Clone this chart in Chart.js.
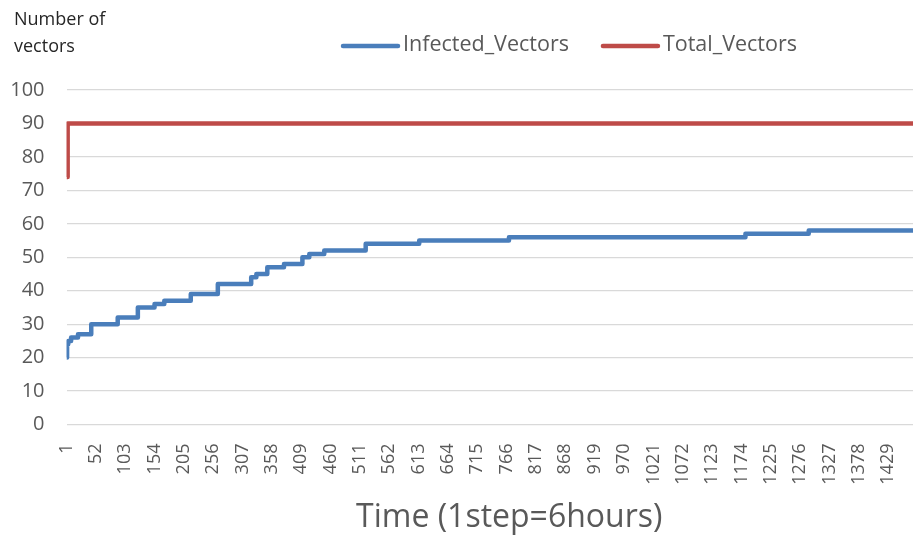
<!DOCTYPE html>
<html>
<head>
<meta charset="utf-8">
<script src="https://cdn.jsdelivr.net/npm/chart.js@4.4.0/dist/chart.umd.min.js"></script>
<style>
  html, body { margin: 0; padding: 0; background: #ffffff; overflow: hidden; }
  #wrap { width: 913px; height: 539px; position: relative; overflow: hidden; }
  #c { position: absolute; left: 0; top: 0; }
</style>
</head>
<body>
<div id="wrap"><canvas id="c" width="952" height="539"></canvas></div>
<script>
// ---- data ----
const seriesNames = ['Infected_Vectors', 'Total_Vectors'];
// step times at which the value changes, and the new value from that step on
const infectedTimes  = [1, 2, 4, 9, 21, 44, 90, 125, 154, 171, 217, 264, 322, 331, 350, 379, 411, 423, 449, 521, 614, 770, 1181, 1291];
const infectedValues = [20, 24, 25, 26, 27, 30, 32, 35, 36, 37, 39, 42, 44, 45, 47, 48, 50, 51, 52, 54, 55, 56, 57, 58];
const totalTimes  = [1, 3];
const totalValues = [74, 90];
const lastStep = 1540;
const xTickLabels = [1, 52, 103, 154, 205, 256, 307, 358, 409, 460, 511, 562, 613, 664, 715, 766, 817, 868, 919, 970, 1021, 1072, 1123, 1174, 1225, 1276, 1327, 1378, 1429];
const yTickLabels = [0, 10, 20, 30, 40, 50, 60, 70, 80, 90, 100];
const yAxisTitle = ['Number of', 'vectors'];
const xAxisTitle = 'Time (1step=6hours)';

const seriesColors = ['#4a7ebb', '#be4b48'];
const FONT = "'Open Sans', 'DejaVu Sans', sans-serif";
const TEXT = '#595959';

function toPoints(times, values) {
  const pts = times.map((t, i) => ({ x: t, y: values[i] }));
  pts.push({ x: lastStep, y: values[values.length - 1] });
  return pts;
}

const topTexts = {
  id: 'topTexts',
  afterDraw(chart) {
    const ctx = chart.ctx;
    ctx.save();
    // y-axis title, top-left
    ctx.fillStyle = '#262626';
    ctx.font = "18px " + FONT;
    ctx.textAlign = 'left';
    ctx.textBaseline = 'middle';
    ctx.fillText(yAxisTitle[0], 14, 20);
    ctx.fillText(yAxisTitle[1], 14, 47);
    // legend
    ctx.font = "21.5px " + FONT;
    let x = 343;
    const y = 45;
    chart.data.datasets.forEach((ds, i) => {
      ctx.strokeStyle = ds.borderColor;
      ctx.lineWidth = 4.5;
      ctx.lineCap = 'round';
      ctx.beginPath();
      ctx.moveTo(x, y + 1);
      ctx.lineTo(x + 55, y + 1);
      ctx.stroke();
      ctx.fillStyle = TEXT;
      ctx.fillText(ds.label, x + 60, y);
      x += 60 + ctx.measureText(ds.label).width + 34;
    });
    ctx.restore();
  }
};

new Chart(document.getElementById('c'), {
  type: 'line',
  data: {
    datasets: [
      {
        label: seriesNames[0],
        data: toPoints(infectedTimes, infectedValues),
        borderColor: seriesColors[0],
        backgroundColor: seriesColors[0],
        borderWidth: 4.5,
        stepped: 'before',
        pointRadius: 0,
        fill: false,
        borderJoinStyle: 'round'
      },
      {
        label: seriesNames[1],
        data: toPoints(totalTimes, totalValues),
        borderColor: seriesColors[1],
        backgroundColor: seriesColors[1],
        borderWidth: 4.5,
        stepped: 'before',
        pointRadius: 0,
        fill: false,
        borderJoinStyle: 'round'
      }
    ]
  },
  options: {
    responsive: false,
    animation: false,
    devicePixelRatio: 1,
    layout: { padding: { left: 0, top: 90, right: 0, bottom: 0 } },
    plugins: {
      legend: { display: false },
      tooltip: { enabled: false }
    },
    scales: {
      x: {
        type: 'linear',
        min: 1,
        max: lastStep,
        afterBuildTicks: (s) => { s.ticks = xTickLabels.map(v => ({ value: v })); },
        afterFit: (s) => { s.height = 114.5; },
        grid: { display: false, drawTicks: false },
        border: { display: false },
        ticks: {
          autoSkip: false,
          minRotation: 90,
          maxRotation: 90,
          padding: 19,
          color: TEXT,
          font: { family: FONT, size: 18 },
          callback: (v) => String(v)
        },
        title: {
          display: true,
          text: xAxisTitle,
          color: TEXT,
          font: { family: FONT, size: 32 },
          padding: { top: 0, bottom: 2 }
        }
      },
      y: {
        min: 0,
        max: 100,
        afterBuildTicks: (s) => { s.ticks = yTickLabels.map(v => ({ value: v })); },
        afterFit: (s) => { s.width = 66.5; },
        grid: { color: '#d9d9d9', lineWidth: 1.3, drawTicks: false },
        border: { display: false },
        ticks: {
          padding: 22,
          color: TEXT,
          font: { family: FONT, size: 20 },
          callback: (v) => String(v)
        }
      }
    }
  },
  plugins: [topTexts]
});
</script>
</body>
</html>
